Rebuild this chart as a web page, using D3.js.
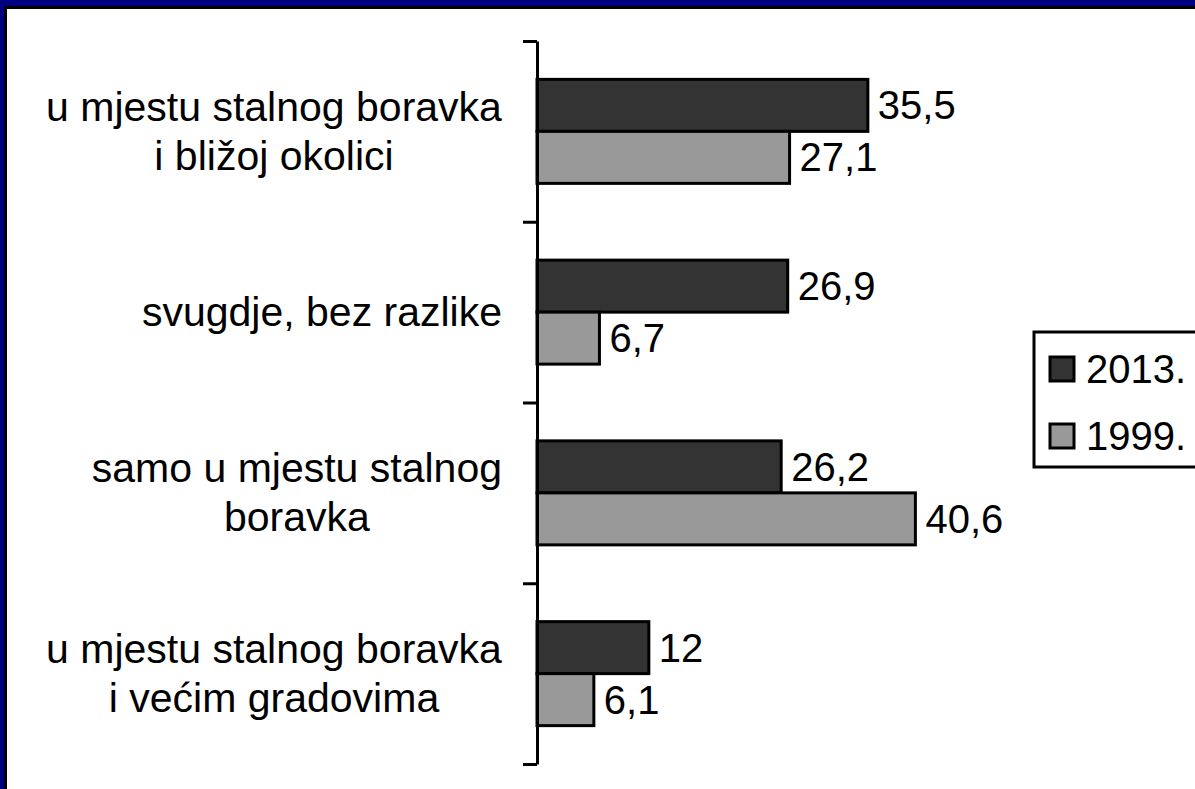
<!DOCTYPE html>
<html>
<head>
<meta charset="utf-8">
<script src="https://cdn.jsdelivr.net/npm/d3@7"></script>
<style>
  html, body { margin: 0; padding: 0; background: #000080; }
  svg { display: block; }
  text { font-family: "Liberation Sans", Arial, sans-serif; fill: #000; }
</style>
</head>
<body>
<svg class="chart"></svg>
<script>
// categories, top to bottom (each label is split into its lines)
var categories = [
  ['u mjestu stalnog boravka', 'i bližoj okolici'],
  ['svugdje, bez razlike'],
  ['samo u mjestu stalnog', 'boravka'],
  ['u mjestu stalnog boravka', 'i većim gradovima']
];
var series = ['2013.', '1999.'];
var values2013 = [35.5, 26.9, 26.2, 12];
var values1999 = [27.1, 6.7, 40.6, 6.1];
var seriesColors = ['#333333', '#999999'];

var width = 1195;
var height = 789;

var svg = d3.select('.chart').attr('width', width).attr('height', height);

// frame: navy edge, thin black line, white plot area
svg.append('rect').attr('x', 4).attr('y', 6).attr('width', width).attr('height', height)
    .style('fill', '#000');
svg.append('rect').attr('x', 7).attr('y', 9).attr('width', width).attr('height', height)
    .style('fill', '#fff');

var axisX = 537;
var plotTop = 41, plotBottom = 764;

var x = d3.scaleLinear().domain([0, 1]).range([axisX, axisX + 9.32]);

var ids = categories.map((c, i) => 'c' + i);
var y0 = d3.scaleBand().domain(ids).range([plotTop, plotBottom])
    .paddingInner(0.4246).paddingOuter(0.2123);
var y1 = d3.scaleBand().domain(series).range([0, y0.bandwidth()]);

var rows = ids.map((id, i) => ({
  id: id,
  label: categories[i],
  vals: [values2013[i], values1999[i]]
}));

var groups = svg.selectAll('g.cat')
    .data(rows)
    .join('g')
    .attr('class', 'cat')
    .attr('transform', d => 'translate(0,' + y0(d.id) + ')');

var bars = groups.selectAll('g.bar')
    .data(d => d.vals.map((v, j) => ({s: series[j], v: v, j: j})))
    .join('g')
    .attr('class', 'bar');

bars.append('rect')
    .attr('x', x(0))
    .attr('y', d => y1(d.s))
    .attr('width', d => x(d.v) - x(0))
    .attr('height', y1.bandwidth())
    .style('fill', d => seriesColors[d.j])
    .style('stroke', '#000')
    .style('stroke-width', 3);

bars.append('text')
    .attr('x', d => x(d.v) + 10)
    .attr('y', d => y1(d.s) + y1.bandwidth() / 2 + 14)
    .style('font-size', '40px')
    .text(d => String(d.v).replace('.', ','));

// category labels: block right-aligned, lines centred inside it
var lineGap = 49;
groups.each(function(d) {
  var g = d3.select(this);
  var t = g.append('text')
      .style('font-size', '41px')
      .attr('text-anchor', 'middle');
  var n = d.label.length;
  var cy = y0.bandwidth() / 2;
  d.label.forEach((line, k) => {
    t.append('tspan')
        .attr('x', 0)
        .attr('y', cy + 14 + (k - (n - 1) / 2) * lineGap)
        .text(line);
  });
  var w = t.node().getBBox().width;
  t.selectAll('tspan').attr('x', 502 - w / 2);
});

// axis with ticks on the category boundaries
var yEdge = d3.scaleLinear().domain([0, categories.length]).range([plotTop, plotBottom]);
var axis = svg.append('g')
    .attr('class', 'axis')
    .attr('transform', 'translate(' + axisX + ',0)')
    .call(d3.axisLeft(yEdge).tickValues(d3.range(categories.length + 1))
        .tickSize(14).tickSizeOuter(0).tickFormat(''));
axis.select('.domain').style('stroke', '#000').style('stroke-width', 3);
axis.selectAll('.tick line').style('stroke', '#000').style('stroke-width', 3);

// legend
var legend = svg.append('g').attr('class', 'legend');
legend.append('rect')
    .attr('x', 1034).attr('y', 332).attr('width', 200).attr('height', 135)
    .style('fill', '#fff').style('stroke', '#000').style('stroke-width', 3);
var items = legend.selectAll('g.item')
    .data(series)
    .join('g')
    .attr('class', 'item')
    .attr('transform', (d, i) => 'translate(1050,' + (357 + i * 67) + ')');
items.append('rect')
    .attr('width', 24).attr('height', 24)
    .style('fill', (d, i) => seriesColors[i])
    .style('stroke', '#000').style('stroke-width', 3);
items.append('text')
    .attr('x', 36).attr('y', 26)
    .style('font-size', '40px')
    .text(d => d);
</script>
</body>
</html>
